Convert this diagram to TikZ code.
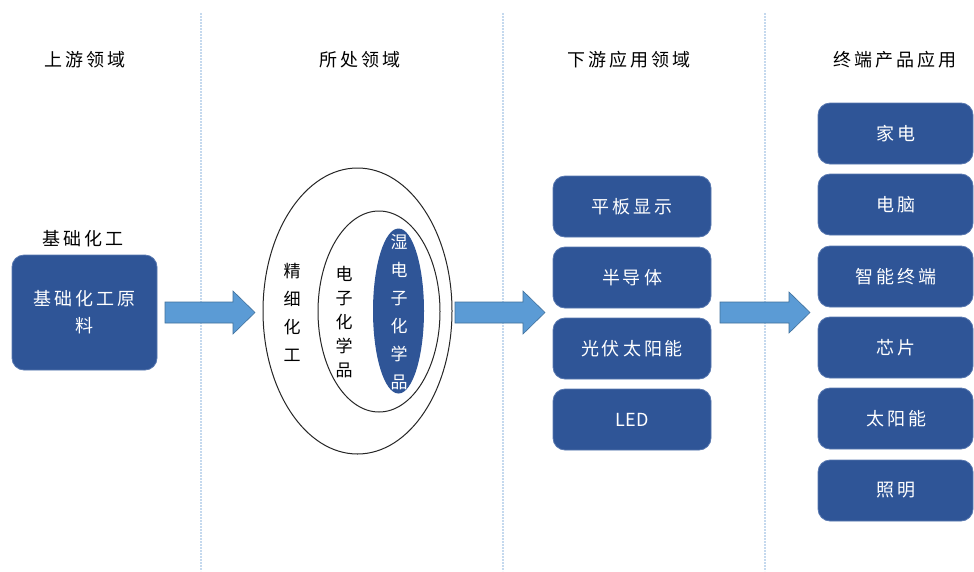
\documentclass[tikz,border=0pt]{standalone}
\usepackage{fontspec}
\setmainfont{Noto Sans CJK SC}
\usetikzlibrary{shapes.geometric}
\definecolor{boxblue}{HTML}{2F5597}
\definecolor{boxedge}{HTML}{5878B0}
\definecolor{arrowfill}{HTML}{5B9BD5}
\definecolor{arrowedge}{HTML}{41719C}
\definecolor{divider}{HTML}{C5D9EE}
\tikzset{
  bluebox/.style={draw=boxedge, line width=0.8pt, fill=boxblue, rounded corners=12pt, text=white, font=\fontsize{18}{22}\selectfont},
  header/.style={font=\fontsize{18}{22}\selectfont, text=black},
  divline/.style={draw=divider, line width=1.2pt, dash pattern=on 2pt off 1pt},
  bigarrow/.style={fill=arrowfill, draw=arrowedge, line width=0.6pt},
  ring/.style={draw=black!85, line width=1pt},
  vtext/.style={align=center, font=\fontsize{17}{25}\selectfont},
}
\begin{document}
\begin{tikzpicture}[x=1pt,y=-1pt]
\useasboundingbox (0,0) rectangle (974,571);
\fill[white] (0,0) rectangle (974,571);
% dividers
\coordinate (d1t) at (201,13); \coordinate (d1b) at (201,571);
\coordinate (d2t) at (503,13); \coordinate (d2b) at (503,571);
\coordinate (d3t) at (765,13); \coordinate (d3b) at (765,571);
\draw[divline] (d1t) -- (d1b);
\draw[divline] (d2t) -- (d2b);
\draw[divline] (d3t) -- (d3b);
% headers
\node[header] (h1) at (85,60) {上\,游\,领\,域};
\node[header] (h2) at (360,60) {所\,处\,领\,域};
\node[header] (h3) at (629,60) {下\,游\,应\,用\,领\,域};
\node[header] (h4) at (895,60) {终\,端\,产\,品\,应\,用};
% left
\node[header] (lbl) at (83,239) {基\,础\,化\,工};
\draw[bluebox] (12,255) rectangle (157,370);
\node[text=white, font=\fontsize{18}{27}\selectfont, align=center] (base) at (84.5,312) {基\,础\,化\,工\,原\\料};
% arrows
\draw[bigarrow] (165,302) -- (233,302) -- (233,291) -- (255,312.5) -- (233,334) -- (233,323) -- (165,323) -- cycle;
\draw[bigarrow] (455,302) -- (523,302) -- (523,291) -- (545,312.5) -- (523,334) -- (523,323) -- (455,323) -- cycle;
\draw[bigarrow] (720,302) -- (789,302) -- (789,292) -- (810,312.5) -- (789,333) -- (789,323) -- (720,323) -- cycle;
% ellipses
\draw[ring] (357.5,311) ellipse [x radius=94.5, y radius=143];
\draw[ring] (379,311.5) ellipse [x radius=61, y radius=100.5];
\fill[boxblue] (398.5,311) ellipse [x radius=25.5, y radius=82.5];
\node[vtext, font=\fontsize{17}{28}\selectfont] (fine) at (292,312) {精\\细\\化\\工};
\node[vtext, font=\fontsize{17}{24}\selectfont] (elec) at (344,322) {电\\子\\化\\学\\品};
\node[vtext, text=white, font=\fontsize{17}{28}\selectfont] (wet) at (399,312) {湿\\电\\子\\化\\学\\品};
% middle boxes
\foreach \t/\y [count=\i] in {平\,板\,显\,示/176, 半\,导\,体/247, 光\,伏\,太\,阳\,能/318, LED/389}{
  \draw[bluebox] (553,\y) rectangle (711,\y+61);
  \node[text=white, font=\fontsize{18}{22}\selectfont] (m\i) at (632,\y+30.5) {\t};
}
% right boxes
\foreach \t/\y [count=\i] in {家\,电/103, 电\,脑/174, 智\,能\,终\,端/246, 芯\,片/317, 太\,阳\,能/388, 照\,明/460}{
  \draw[bluebox] (818,\y) rectangle (973,\y+61);
  \node[text=white, font=\fontsize{18}{22}\selectfont] (r\i) at (896,\y+30.5) {\t};
}
\end{tikzpicture}
\end{document}
